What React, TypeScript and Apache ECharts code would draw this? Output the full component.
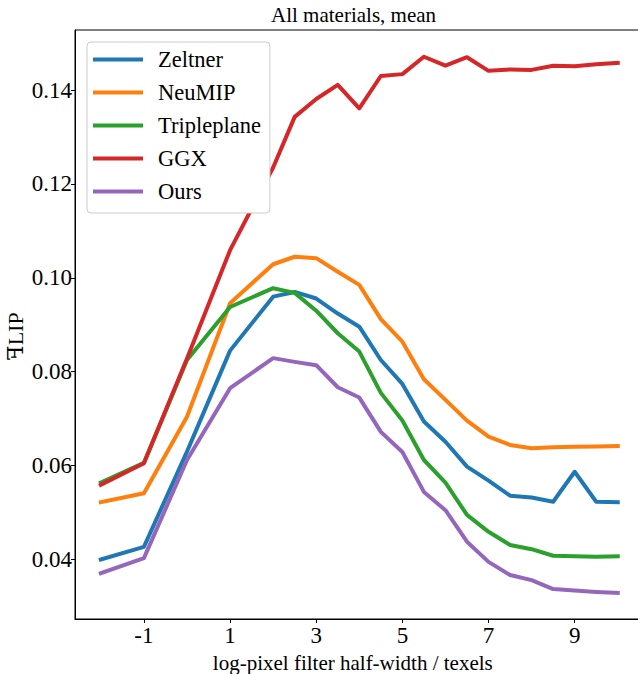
import React, { useEffect, useRef } from "react";
import * as echarts from "echarts";

const xValues = [-2, -1, 0, 1, 2, 2.5, 3, 3.5, 4, 4.5, 5, 5.5, 6, 6.5, 7, 7.5, 8, 8.5, 9, 9.5, 10];

const zeltner = [0.0400, 0.0427, 0.0630, 0.0845, 0.0960, 0.0970, 0.0956, 0.0924, 0.0896, 0.0825, 0.0774, 0.0694, 0.0651, 0.0598, 0.0568, 0.0536, 0.0532, 0.0523, 0.0587, 0.0523, 0.0522];
const neumip = [0.0522, 0.0541, 0.0704, 0.0946, 0.1029, 0.1045, 0.1042, 0.1013, 0.0985, 0.0912, 0.0864, 0.0784, 0.0740, 0.0696, 0.0662, 0.0644, 0.0637, 0.0639, 0.0640, 0.0641, 0.0642];
const tripleplane = [0.0564, 0.0606, 0.0825, 0.0938, 0.0978, 0.0968, 0.0930, 0.0882, 0.0843, 0.0755, 0.0696, 0.0612, 0.0564, 0.0495, 0.0459, 0.0431, 0.0422, 0.0408, 0.0407, 0.0406, 0.0407];
const ggx = [0.0559, 0.0605, 0.0828, 0.1059, 0.1235, 0.1343, 0.1381, 0.1411, 0.1361, 0.1430, 0.1434, 0.1471, 0.1452, 0.1470, 0.1441, 0.1444, 0.1443, 0.1452, 0.1451, 0.1455, 0.1458];
const ours = [0.0371, 0.0403, 0.0612, 0.0765, 0.0829, 0.0821, 0.0814, 0.0767, 0.0745, 0.0672, 0.0629, 0.0544, 0.0505, 0.0438, 0.0395, 0.0367, 0.0356, 0.0337, 0.0334, 0.0331, 0.0329];

const seriesNames = ["Zeltner", "NeuMIP", "Tripleplane", "GGX", "Ours"];
const seriesValues = [zeltner, neumip, tripleplane, ggx, ours];
const seriesColors = ["#1f77b4", "#ff7f0e", "#2ca02c", "#d62728", "#9467bd"];

const xTicks = [-1, 1, 3, 5, 7, 9];
const yTicks = [0.04, 0.06, 0.08, 0.1, 0.12, 0.14];

const FONT = "'Liberation Serif', 'DejaVu Serif', 'Times New Roman', serif";

export default function App() {
  const ref = useRef<HTMLDivElement>(null);

  useEffect(() => {
    if (!ref.current) return;
    const chart = echarts.init(ref.current, null, { renderer: "svg" });
    const option = {
      animation: false,
      backgroundColor: "#ffffff",
      title: {
        text: "All materials, mean",
        left: 271,
        top: 4,
        padding: 0,
        textStyle: { fontFamily: FONT, fontSize: 21, fontWeight: "normal", color: "#000" },
      },
      legend: {
        orient: "vertical",
        left: 87,
        top: 42,
        padding: [6, 9, 10, 6],
        backgroundColor: "#ffffff",
        borderColor: "#cccccc",
        borderWidth: 1,
        borderRadius: 4,
        itemWidth: 50,
        itemHeight: 4,
        itemGap: 10,
        icon: "rect",
        data: seriesNames,
        textStyle: {
          fontFamily: FONT,
          fontSize: 22.5,
          color: "#000",
          lineHeight: 22,
          padding: [0, 0, 0, 10],
        },
      },
      grid: {
        left: 75,
        top: 30,
        width: 568.6,
        height: 589,
        outerBoundsMode: "none",
        containLabel: false,
        show: true,
        borderColor: "#000",
        borderWidth: 1,
        backgroundColor: "transparent",
      },
      xAxis: {
        type: "value",
        min: -2.6,
        max: 10.6,
        name: "log-pixel filter half-width / texels",
        nameLocation: "middle",
        nameGap: 33,
        nameTextStyle: { fontFamily: FONT, fontSize: 21, color: "#000", padding: [0, 13, 0, 0] },
        axisLine: { show: true, onZero: false, lineStyle: { color: "#000", width: 1 } },
        axisTick: { show: true, inside: false, length: 4, customValues: xTicks, lineStyle: { color: "#000" } },
        axisLabel: {
          show: true,
          margin: 5,
          customValues: xTicks,
          fontFamily: FONT,
          fontSize: 23,
          color: "#000",
          formatter: (v: number) => String(v),
        },
        splitLine: { show: false },
      },
      yAxis: {
        type: "value",
        min: 0.02733,
        max: 0.1528,
        name: "ꟻLIP",
        nameLocation: "middle",
        nameRotate: 90,
        nameGap: 49,
        nameMoveOverlap: false,
        nameTextStyle: { fontFamily: FONT, fontSize: 22, color: "#000", padding: [0, 24, 0, 0] },
        axisLine: { show: true, onZero: false, lineStyle: { color: "#000", width: 1 } },
        axisTick: { show: true, inside: false, length: 4, customValues: yTicks, lineStyle: { color: "#000" } },
        axisLabel: {
          show: true,
          margin: 3,
          customValues: yTicks,
          fontFamily: FONT,
          fontSize: 23,
          color: "#000",
          formatter: (v: number) => v.toFixed(2),
        },
        splitLine: { show: false },
      },
      series: seriesNames.map((name, i) => ({
        name,
        type: "line",
        data: xValues.map((x, j) => [x, seriesValues[i][j]]),
        showSymbol: false,
        symbol: "none",
        color: seriesColors[i],
        lineStyle: { width: 4, color: seriesColors[i], cap: "square", join: "round" },
        emphasis: { disabled: true },
      })),
    };
    chart.setOption(option as any);
    return () => chart.dispose();
  }, []);

  return (
    <div
      ref={ref}
      style={{ position: "fixed", left: 0, top: 0, width: 638, height: 674, overflow: "hidden" }}
    />
  );
}
